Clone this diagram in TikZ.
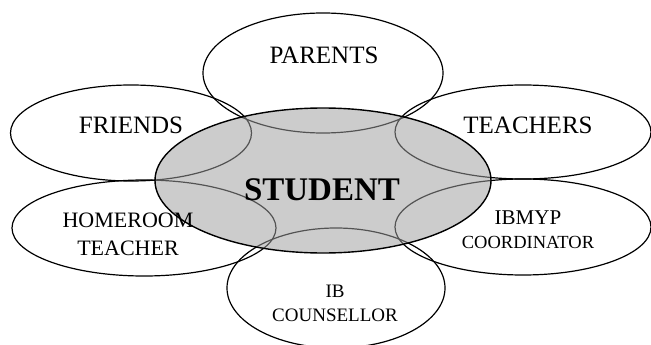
\documentclass[tikz,border=0pt]{standalone}
\usepackage{fontspec}
\setmainfont{Liberation Serif}
\usetikzlibrary{shapes.geometric}

\begin{document}
\begin{tikzpicture}[x=1pt, y=-1pt,
            petal/.style={draw, ellipse, line width=1.2pt, inner sep=0pt},
            hub/.style={draw, ellipse, line width=1.4pt, inner sep=0pt, fill=black!38, fill opacity=0.53},
            tag/.style={anchor=base, align=center, inner sep=0pt}]

            \useasboundingbox (0,0) rectangle (651,345);

            \node[petal, minimum width=240pt, minimum height=120pt] (parents) at (323,73) {};
            \node[petal, minimum width=241pt, minimum height=96pt] (friends) at (131,133) {};
            \node[petal, minimum width=256pt, minimum height=94pt] (teachers) at (523,132) {};
            \node[petal, minimum width=264pt, minimum height=96pt] (homeroom) at (144,228) {};
            \node[petal, minimum width=256pt, minimum height=96pt] (ibmyp) at (523,227) {};
            \node[petal, minimum width=218pt, minimum height=120pt] (counsellor) at (336,288) {};
            \node[hub, minimum width=336pt, minimum height=145pt] (student) at (323,180.5) {};

            \node[tag, font=\fontsize{25}{28}\selectfont] (parentsText) at (324,64) {PARENTS};
            \node[tag, font=\fontsize{25}{28}\selectfont] (friendsText) at (131,133) {FRIENDS};
            \node[tag, font=\fontsize{25}{28}\selectfont] (teachersText) at (528,133) {TEACHERS};
            \node[tag, font=\bfseries\fontsize{33}{36}\selectfont] (studentText) at (322,200) {STUDENT};
            \node[tag, font=\fontsize{22}{28}\selectfont] (homeroomText) at (128,255) {HOMEROOM\\TEACHER};
            \node[tag, font=\fontsize{21}{24}\selectfont] (ibmypText) at (528,248) {IBMYP\\\fontsize{18.5}{24}\selectfont COORDINATOR};
            \node[tag, font=\fontsize{19}{24}\selectfont] (counsellorText) at (335,321) {IB\\COUNSELLOR};
        \end{tikzpicture}
\end{document}
